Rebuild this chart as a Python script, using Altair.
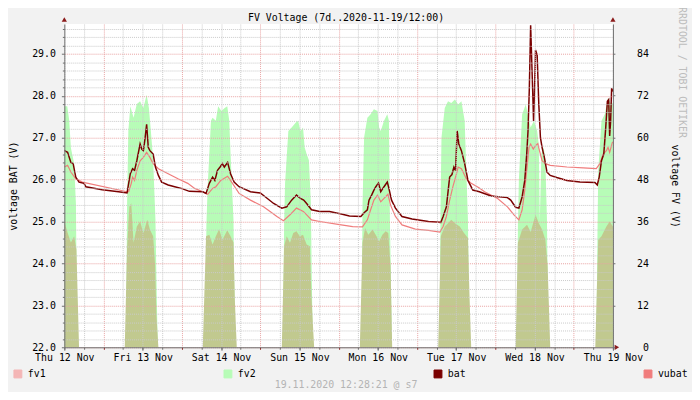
import json
import altair as alt
import pandas as pd

FONT = "DejaVu Sans Mono"

# ---------------- data ----------------
day_labels = ["Thu 12 Nov", "Fri 13 Nov", "Sat 14 Nov", "Sun 15 Nov",
              "Mon 16 Nov", "Tue 17 Nov", "Wed 18 Nov", "Thu 19 Nov"]
series_names = ["fv1", "fv2", "bat", "vubat"]
series_colors = ["#F4B6B6", "#B7FCB7", "#7A0000", "#F07C7C"]
fv1_area_color = "#C1C98F"

title_text = "FV Voltage (7d..2020-11-19/12:00)"
footer_text = "19.11.2020 12:28:21 @ s7"
side_text = "RRDTOOL / TOBI OETIKER"
left_title = "voltage BAT (V)"
right_title = "voltage FV (V)"

# hours since Thu 12 Nov 12:00
bat_hours = [0.0, 1.0, 2.0, 2.7, 3.5, 4.5, 6.0, 6.6, 11.6, 16.6, 19.2, 19.7, 20.2, 20.9, 21.5,
             22.2, 23.2, 23.7, 24.2, 24.7, 25.2, 25.7, 26.2, 27.2, 27.9, 28.8, 29.8, 31.8, 33.8,
             35.8, 38.3, 42.4, 43.4, 44.4, 45.4, 46.1, 46.9, 47.7, 48.4, 49.0, 50.0, 50.9, 52.0,
             53.5, 57.0, 60.0, 61.5, 64.1, 66.6, 68.1, 69.6, 71.1, 72.3, 73.3, 74.2, 75.7, 78.2,
             81.2, 84.8, 87.3, 90.8, 91.8, 92.8, 93.3, 94.1, 94.8, 95.4, 96.2, 96.9, 97.9, 98.9,
             99.4, 100.2, 101.4, 103.4, 106.5, 111.5, 115.3, 116.0, 117.0, 118.0, 118.7, 119.3,
             119.8, 120.3, 120.8, 121.6, 122.6, 123.6, 125.1, 127.1, 130.7, 135.7, 136.7, 138.2,
             139.2, 140.2, 141.0, 141.6, 142.0, 142.4, 142.8, 143.4, 143.7, 144.0, 144.3, 144.8,
             145.3, 145.8, 146.3, 147.0, 147.8, 148.8, 150.8, 153.9, 157.9, 162.5, 163.2, 163.8,
             164.5, 165.2, 165.8, 166.3, 166.7, 167.0, 167.3, 167.6, 168.0]
bat_volts = [26.69, 26.65, 26.41, 26.38, 26.06, 25.94, 25.91, 25.83, 25.76, 25.71, 25.68, 25.91,
             26.14, 26.26, 26.22, 26.45, 26.85, 26.73, 26.69, 26.97, 27.32, 26.77, 26.69, 26.61,
             26.30, 26.10, 25.94, 25.87, 25.83, 25.79, 25.72, 25.71, 25.67, 25.91, 26.06, 25.98,
             26.22, 26.30, 26.38, 26.30, 26.41, 26.14, 25.94, 25.83, 25.71, 25.68, 25.59, 25.43,
             25.32, 25.35, 25.51, 25.63, 25.55, 25.51, 25.43, 25.28, 25.24, 25.24, 25.18, 25.13,
             25.12, 25.21, 25.28, 25.51, 25.63, 25.75, 25.83, 25.92, 25.71, 25.83, 25.94, 25.79,
             25.51, 25.32, 25.12, 25.06, 25.00, 24.98, 25.12, 25.35, 26.06, 26.12, 26.30, 26.22,
             27.16, 26.85, 26.69, 26.38, 25.98, 25.75, 25.71, 25.61, 25.57, 25.51, 25.34, 25.32,
             25.59, 25.98, 26.61, 27.16, 28.18, 29.68, 28.18, 27.40, 28.18, 29.09, 28.97, 27.79,
             27.00, 26.77, 26.53, 26.18, 26.10, 26.05, 25.98, 25.94, 25.93, 25.87, 26.06, 26.45,
             26.61, 27.24, 27.87, 27.91, 27.04, 27.40, 28.18, 28.10]

vubat_hours = [0.0, 1.0, 2.0, 3.5, 5.5, 19.2, 19.7, 20.5, 20.9, 21.5, 22.2, 23.2, 24.2, 25.2, 26.2,
               27.2, 28.8, 31.8, 34.8, 37.8, 39.9, 42.4, 43.9, 45.4, 46.4, 47.9, 50.0, 51.5, 53.5,
               57.0, 61.0, 65.1, 67.1, 69.1, 71.1, 73.2, 75.7, 78.2, 84.8, 88.3, 91.3, 92.8, 93.8,
               94.8, 95.9, 96.9, 97.9, 99.1, 99.9, 101.4, 103.4, 107.5, 111.5, 115.0, 116.0, 117.0,
               118.0, 119.0, 120.1, 120.6, 121.6, 123.1, 124.6, 127.1, 128.7, 132.7, 135.7, 137.7,
               139.2, 140.2, 141.0, 141.8, 142.3, 142.8, 143.6, 144.3, 145.0, 145.5, 146.3, 147.3,
               148.8, 153.9, 158.9, 162.9, 164.0, 165.0, 166.0, 166.5, 167.0, 167.8, 168.0]
vubat_volts = [26.30, 26.34, 26.18, 26.02, 25.94, 25.71, 25.71, 25.91, 26.06, 25.98, 26.22, 26.45,
               26.53, 26.65, 26.53, 26.38, 26.26, 26.14, 26.02, 25.91, 25.79, 25.71, 25.65, 25.79,
               25.83, 25.98, 26.08, 25.91, 25.67, 25.51, 25.35, 25.12, 25.02, 25.16, 25.32, 25.24,
               25.04, 25.00, 24.92, 24.88, 24.87, 25.04, 25.28, 25.51, 25.63, 25.47, 25.55, 25.65,
               25.39, 25.12, 24.92, 24.82, 24.79, 24.75, 24.88, 25.12, 25.51, 25.83, 26.14, 26.30,
               26.26, 26.02, 25.91, 25.80, 25.71, 25.55, 25.35, 25.16, 25.04, 25.28, 25.75, 26.38,
               26.77, 26.85, 26.73, 26.81, 26.86, 26.69, 26.45, 26.38, 26.34, 26.30, 26.28, 26.26,
               26.38, 26.61, 26.69, 26.77, 26.65, 26.88, 26.90]

fv2_hours = [0.0, 0.9, 1.5, 2.0, 3.0, 3.55, 3.75, 4.2,
             18.9, 19.2, 19.6, 20.2, 21.2, 22.2, 23.2, 24.2, 25.2, 25.9, 26.5, 27.2, 27.9, 28.2, 28.6,
             43.2, 43.5, 43.9, 44.9, 45.4, 46.4, 47.1, 48.1, 49.1, 49.9, 50.5, 50.9, 51.8, 52.0, 52.4,
             67.0, 67.3, 67.6, 68.6, 69.6, 70.9, 71.6, 72.3, 73.1, 73.6, 74.2, 74.9, 75.5, 75.7, 76.1,
             91.0, 91.3, 91.8, 92.8, 93.8, 94.8, 95.9, 96.4, 96.9, 97.9, 98.9, 99.4, 99.7, 100.0, 100.3,
             114.9, 115.2, 115.5, 116.5, 117.5, 118.5, 119.6, 120.6, 121.6, 122.1, 122.6, 123.1, 123.6,
             123.8, 124.3,
             138.6, 138.9, 139.2, 140.2, 141.3, 142.8, 143.8, 144.8, 145.3, 145.6, 146.1, 146.8, 147.3,
             147.8, 148.0, 148.4,
             162.9, 163.3, 163.5, 164.5, 165.5, 166.5, 167.5, 168.0]
fv2_volts = [69.0, 69.0, 64.8, 57.1, 52.6, 41.0, 20.0, 0.0,
             0.0, 40.0, 62.0, 69.0, 65.7, 69.6, 70.4, 68.5, 72.3, 68.5, 61.9, 53.5, 36.5, 20.0, 0.0,
             0.0, 35.0, 46.0, 64.8, 65.7, 64.8, 69.0, 67.6, 68.5, 69.0, 64.8, 55.3, 36.5, 20.0, 0.0,
             0.0, 35.0, 47.0, 61.9, 62.9, 64.3, 64.8, 61.9, 62.9, 57.2, 55.3, 53.5, 41.3, 25.0, 0.0,
             0.0, 40.0, 60.0, 65.7, 66.7, 68.1, 67.6, 62.9, 61.9, 64.8, 66.7, 64.8, 36.5, 20.0, 0.0,
             0.0, 40.0, 60.0, 68.5, 70.4, 69.9, 70.9, 69.5, 70.4, 67.6, 64.8, 50.6, 36.5, 20.0, 0.0,
             0.0, 35.0, 48.0, 66.7, 69.5, 62.9, 64.8, 61.9, 58.0, 36.0, 55.4, 57.2, 53.5, 36.5, 20.0,
             0.0,
             0.0, 35.0, 50.6, 64.8, 66.7, 71.4, 69.5, 70.0]

fv1_hours = [0.0, 1.0, 2.0, 3.0, 3.7, 4.5,
             18.5, 19.2, 19.9, 20.5, 21.2, 22.2, 23.2, 24.2, 25.4, 26.2, 27.2, 27.8, 28.2, 28.8,
             42.4, 43.4, 44.4, 45.4, 46.4, 47.4, 48.4, 49.9, 50.9, 51.8, 52.2, 52.8,
             66.6, 67.3, 68.1, 69.1, 70.1, 71.1, 72.1, 73.1, 74.2, 75.2, 75.7, 76.5,
             90.5, 91.3, 92.1, 93.1, 94.4, 95.6, 96.4, 97.4, 98.4, 99.2, 99.9, 100.4,
             114.5, 115.3, 116.5, 117.5, 118.5, 119.6, 121.1, 122.4, 123.6, 124.1, 124.6,
             138.2, 138.9, 140.2, 141.7, 142.8, 144.3, 145.3, 146.3, 147.3, 148.0, 148.8,
             162.6, 163.5, 164.5, 166.0, 167.0, 168.0]
fv1_volts = [36.0, 32.8, 30.0, 31.8, 28.0, 0.0,
             0.0, 28.0, 40.2, 41.2, 29.9, 34.6, 36.0, 32.7, 36.5, 33.7, 31.8, 23.3, 9.1, 0.0,
             0.0, 31.8, 32.2, 29.4, 31.8, 33.8, 30.8, 33.5, 31.8, 30.0, 13.9, 0.0,
             0.0, 28.9, 31.8, 29.9, 32.7, 33.2, 31.8, 32.2, 29.4, 28.9, 13.9, 0.0,
             0.0, 29.9, 34.1, 32.2, 33.7, 31.8, 30.3, 32.2, 33.2, 32.7, 23.3, 0.0,
             0.0, 31.8, 34.6, 35.5, 36.5, 35.5, 34.6, 32.7, 31.3, 13.9, 0.0,
             0.0, 29.9, 33.7, 35.1, 33.0, 37.9, 35.5, 33.7, 30.8, 23.3, 0.0,
             0.0, 30.8, 31.8, 34.6, 36.0, 34.6]

df_bat = pd.DataFrame({"h": bat_hours, "v": bat_volts, "s": "bat"})
df_vubat = pd.DataFrame({"h": vubat_hours, "v": vubat_volts, "s": "vubat"})
df_fv2 = pd.DataFrame({"h": fv2_hours, "v": fv2_volts, "s": "fv2"})
df_fv1 = pd.DataFrame({"h": fv1_hours, "v": fv1_volts, "s": "fv1"})
df_series = pd.DataFrame({"s": series_names})

# ---------------- styles ----------------
BG = "#F2F2F2"
GRID_GRAY = "#C9C9C9"
GRID_RED = "#E9A3A3"
AXIS_COL = "#6E6E6E"
ARROW_COL = "#8B1A1A"

x_scale = alt.Scale(domain=[0, 168], nice=False, zero=False)
bat_scale = alt.Scale(domain=[22, 29.71], nice=False, zero=False)
fv_scale = alt.Scale(domain=[0, 92.5], nice=False, zero=False)
color_scale = alt.Scale(domain=series_names, range=series_colors)

x_minor_vals = [h for h in range(0, 169, 6) if (h - 12) % 24 != 0]
x_major_vals = [12 + 24 * k for k in range(7)]
x_label_vals = [24 * k for k in range(8)]
y_minor_vals = [round(22 + 0.2 * i, 1) for i in range(39) if i % 5 != 0]
y_major_vals = list(range(22, 30))
fv_vals = list(range(0, 85, 12))

x_minor_axis = alt.Axis(orient="bottom", values=x_minor_vals, grid=True, gridColor=GRID_GRAY,
                        gridDash=[1, 1], labels=False, ticks=True, tickSize=2,
                        tickColor=AXIS_COL, domain=False, title=None, zindex=1)
x_major_axis = alt.Axis(orient="bottom", values=x_major_vals, grid=True, gridColor=GRID_RED,
                        gridDash=[1, 1], labels=False, ticks=True, tickSize=2,
                        tickColor=ARROW_COL, domain=False, title=None, zindex=1)
x_label_axis = alt.Axis(orient="bottom", values=x_label_vals, grid=False,
                        labelExpr=json.dumps(day_labels) + "[round(datum.value / 24)]",
                        labelFont=FONT, labelFontSize=10, labelColor="black", labelPadding=2,
                        labelOverlap=False, labelFlush=False, tickSize=3, tickColor=AXIS_COL,
                        domainColor=AXIS_COL, title=None, zindex=1)
y_minor_axis = alt.Axis(orient="left", values=y_minor_vals, grid=True, gridColor=GRID_GRAY,
                        gridDash=[1, 1], labels=False, ticks=True, tickSize=2,
                        tickColor=AXIS_COL, domain=False, title=None, zindex=1)
y_major_axis = alt.Axis(orient="left", values=y_major_vals, format=".1f", grid=True,
                        gridColor=GRID_RED, gridDash=[1, 1], labelFont=FONT, labelFontSize=10,
                        labelColor="black", labelPadding=6, tickSize=3, tickColor=AXIS_COL,
                        domainColor=AXIS_COL, title=left_title, titleFont=FONT,
                        titleFontSize=10, titleFontWeight="normal", titleColor="black",
                        titleAngle=270, titleBaseline="middle", titleX=-51, titleY=163.5,
                        zindex=1)
fv_axis = alt.Axis(orient="right", values=fv_vals, format="d", grid=False, labelFont=FONT,
                   labelFontSize=10, labelColor="black", labelAlign="right", labelPadding=34,
                   tickSize=2, tickColor=AXIS_COL, domainColor=AXIS_COL, title=right_title,
                   titleFont=FONT, titleFontSize=10, titleFontWeight="normal",
                   titleColor="black", titleAngle=90, titleBaseline="middle", titleX=62,
                   titleY=163.5, zindex=1)

legend = alt.Legend(orient="none", legendX=-52, legendY=349, direction="horizontal",
                    columns=4, gridAlign="all", columnPadding=165.5, padding=0, title=None,
                    symbolType="square", symbolSize=64, symbolStrokeColor="black",
                    symbolStrokeWidth=1, symbolOpacity=1, labelFont=FONT, labelFontSize=10,
                    labelColor="black", labelOffset=5)

# ---------------- layers ----------------
# legend carrier: boxed squares placed off the canvas, only its legend is seen
legend_layer = alt.Chart(df_series).mark_square(
    filled=True, stroke="black", strokeWidth=1, opacity=1, size=64).encode(
    x=alt.value(0), y=alt.value(-400),
    fill=alt.Fill("s:N", scale=color_scale, legend=legend),
)

fv2_layer = alt.Chart(df_fv2).mark_area(interpolate="linear", opacity=1).encode(
    x=alt.X("h:Q", scale=x_scale, axis=None),
    y=alt.Y("v:Q", scale=fv_scale, axis=fv_axis),
    color=alt.Color("s:N", scale=color_scale, legend=None),
)
fv1_layer = alt.Chart(df_fv1).mark_area(interpolate="linear", color=fv1_area_color,
                                        opacity=1).encode(
    x=alt.X("h:Q", scale=x_scale, axis=None),
    y=alt.Y("v:Q", scale=fv_scale, axis=fv_axis),
)
fv_group = alt.layer(fv2_layer, fv1_layer)

vubat_layer = alt.Chart(df_vubat).mark_line(strokeWidth=1.2, interpolate="linear").encode(
    x=alt.X("h:Q", scale=x_scale, axis=x_minor_axis),
    y=alt.Y("v:Q", scale=bat_scale, axis=y_minor_axis),
    color=alt.Color("s:N", scale=color_scale, legend=None),
)
bat_layer = alt.Chart(df_bat).mark_line(strokeWidth=1.5, interpolate="linear").encode(
    x=alt.X("h:Q", scale=x_scale, axis=x_major_axis),
    y=alt.Y("v:Q", scale=bat_scale, axis=y_major_axis),
    color=alt.Color("s:N", scale=color_scale, legend=None),
)
label_layer = alt.Chart(df_bat).mark_line(opacity=0).encode(
    x=alt.X("h:Q", scale=x_scale, axis=x_label_axis),
    y=alt.Y("v:Q", scale=bat_scale, axis=None),
)
bat_group = alt.layer(vubat_layer, bat_layer, label_layer).resolve_axis(
    x="independent", y="independent")

title_layer = alt.Chart(pd.DataFrame({"t": [title_text]})).mark_text(
    font=FONT, fontSize=10, color="black", align="center", baseline="middle").encode(
    text="t:N", x=alt.value(285), y=alt.value(-6.5))
footer_layer = alt.Chart(pd.DataFrame({"t": [footer_text]})).mark_text(
    font=FONT, fontSize=10, color="#B4B4B4", align="center", baseline="middle").encode(
    text="t:N", x=alt.value(285), y=alt.value(365))
side_layer = alt.Chart(pd.DataFrame({"t": [side_text]})).mark_text(
    font=FONT, fontSize=10, color="#BDBDBD", align="center", baseline="middle",
    angle=90).encode(text="t:N", x=alt.value(625), y=alt.value(49))

arrow_up_left = alt.Chart(pd.DataFrame({"a": [0]})).mark_point(
    shape="triangle-up", filled=True, color=ARROW_COL, size=28, opacity=1).encode(
    x=alt.value(0), y=alt.value(-4.5))
arrow_up_right = alt.Chart(pd.DataFrame({"a": [0]})).mark_point(
    shape="triangle-up", filled=True, color=ARROW_COL, size=28, opacity=1).encode(
    x=alt.value(555), y=alt.value(-4.5))
arrow_right = alt.Chart(pd.DataFrame({"a": [0]})).mark_point(
    shape="triangle-right", filled=True, color=ARROW_COL, size=28, opacity=1).encode(
    x=alt.value(559), y=alt.value(327))

chart = alt.layer(
    legend_layer, fv_group, bat_group, title_layer, footer_layer, side_layer,
    arrow_up_left, arrow_up_right, arrow_right,
).resolve_scale(y="independent").resolve_axis(x="independent", y="independent").properties(
    width=555, height=327,
    autosize=alt.AutoSizeParams(type="none"),
    padding={"left": 57, "top": 14, "right": 80, "bottom": 43},
    background=BG,
).configure_view(fill="white", stroke=None)

chart.save("out.html", embed_options={"renderer": "svg", "actions": False})
